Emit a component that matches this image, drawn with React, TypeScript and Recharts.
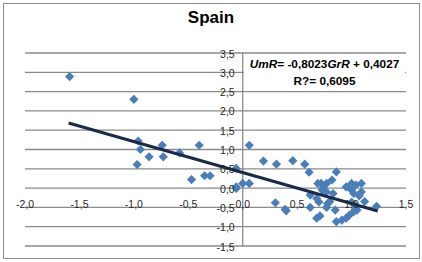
import { ScatterChart, Scatter, XAxis, YAxis, CartesianGrid, ReferenceLine } from "recharts";

// GrR (x) and UmR (y)
const GRR = [
  -1.59, -1.0, -0.96, -0.94, -0.97, -0.86, -0.74, -0.73, -0.58, -0.4, -0.47, -0.35, -0.3,
  -0.06, -0.06, -0.06, 0.0, 0.06, 0.06, 0.19, 0.31, 0.3, 0.4, 0.39, 0.46, 0.57, 0.61, 0.62,
  0.62, 0.69, 0.72, 0.77, 0.82, 0.86, 0.68, 0.7, 0.71, 0.68, 0.77, 0.8, 0.77, 0.83, 0.85,
  0.86, 0.91, 0.95, 0.95, 1.0, 1.02, 1.04, 1.09, 1.09, 1.12, 1.03, 1.02, 1.05, 1.0, 1.23,
  0.74, 0.78, 0.98, 1.0, 0.73, 1.07,
];
const UMR = [
  2.89, 2.3, 1.22, 1.0, 0.61, 0.81, 1.11, 0.81, 0.91, 1.11, 0.22, 0.32, 0.32,
  0.51, 0.03, -0.01, 0.12, 0.12, 1.11, 0.7, 0.62, -0.38, -0.59, -0.55, 0.71, 0.62, 0.41, -0.18,
  -0.5, 0.12, 0.12, 0.12, 0.21, 0.42, -0.27, -0.36, -0.72, -0.78, -0.5, -0.35, -0.1, -0.14, -0.57,
  -0.87, -0.83, -0.78, 0.03, 0.12, -0.14, 0.08, 0.12, -0.1, -0.35, -0.44, -0.61, -0.57, -0.36, -0.47,
  0.0, -0.4, -0.7, -0.05, -0.05, -0.2,
];

const X_TICKS = [-2, -1.5, -1, -0.5, 0, 0.5, 1, 1.5];
const Y_TICKS = [-1.5, -1, -0.5, 0, 0.5, 1, 1.5, 2, 2.5, 3, 3.5];

// Excel linear trendline
const SLOPE = -0.8023;
const INTERCEPT = 0.4027;
const TREND_X = [-1.6, 1.24];

const punten = GRR.map((x, i) => ({ x, y: UMR[i] }));
const trend = TREND_X.map((x) => ({ x, y: SLOPE * x + INTERCEPT }));

const W = 422;
const H = 262;
const M = { top: 53, right: 16, bottom: 15, left: 24 };
const AX = 1; // axis sizes, tiny since labels sit on the 0,0 cross
const PLOT_L = M.left + AX;
const PLOT_W = W - PLOT_L - M.right;
const PLOT_H = H - M.top - M.bottom - AX;
const X_MIN = -2, X_MAX = 1.5, Y_MIN = -1.5, Y_MAX = 3.5;

// axes cross at 0,0 like in Excel
const zeroX = PLOT_L + ((0 - X_MIN) / (X_MAX - X_MIN)) * PLOT_W;
const zeroY = M.top + ((Y_MAX - 0) / (Y_MAX - Y_MIN)) * PLOT_H;

const fmt = (v: number) => v.toFixed(1).replace(".", ",");
const FONT = "'Liberation Sans', Arial, sans-serif";

const XTick = (props: any) => (
  <text x={props.x} y={zeroY + 20} textAnchor="middle" fontSize={10.5} fontFamily={FONT} fill="#262626">
    {fmt(props.payload.value)}
  </text>
);

const YTick = (props: any) => (
  <text x={zeroX - 8} y={props.y + 4.5} textAnchor="end" fontSize={10.5} fontFamily={FONT} fill="#262626">
    {fmt(props.payload.value)}
  </text>
);

const Ruit = ({ cx, cy }: any) => (
  <path d={`M${cx},${cy - 4.6}L${cx + 4.6},${cy}L${cx},${cy + 4.6}L${cx - 4.6},${cy}Z`} fill="#4a7ebb" />
);

export default function App() {
  return (
    <div style={{ position: "absolute", left: 0, top: 0, width: W, height: H, background: "#fff" }}>
      <div
        style={{
          position: "absolute",
          left: 3,
          top: 3,
          width: 417,
          height: 256,
          border: "1.5px solid #8c8c8c",
          boxSizing: "border-box",
        }}
      />
      <ScatterChart width={W} height={H} margin={M}>
        <CartesianGrid vertical={false} stroke="#8a8a8a" strokeWidth={1.3} />
        <XAxis
          type="number"
          dataKey="x"
          domain={[X_MIN, X_MAX]}
          ticks={X_TICKS}
          interval={0}
          height={AX}
          axisLine={false}
          tickLine={false}
          tick={XTick}
          allowDataOverflow
        />
        <YAxis
          type="number"
          dataKey="y"
          domain={[Y_MIN, Y_MAX]}
          ticks={Y_TICKS}
          interval={0}
          width={AX}
          axisLine={false}
          tickLine={false}
          tick={YTick}
          allowDataOverflow
        />
        <ReferenceLine x={0} stroke="#8a8a8a" strokeWidth={1.3} />
        <Scatter data={punten} shape={<Ruit />} isAnimationActive={false} />
        <Scatter
          data={trend}
          line={{ stroke: "#1b2a48", strokeWidth: 3 }}
          shape={() => <g />}
          isAnimationActive={false}
        />
      </ScatterChart>
      <div
        style={{
          position: "absolute",
          left: 0,
          top: 8,
          width: W,
          textAlign: "center",
          fontFamily: FONT,
          fontWeight: "bold",
          fontSize: 17,
          color: "#000",
        }}
      >
        Spain
      </div>
      <div
        style={{
          position: "absolute",
          left: 244,
          top: 56,
          width: 161,
          height: 33,
          background: "#fff",
          textAlign: "center",
          fontFamily: FONT,
          fontWeight: "bold",
          fontSize: 11.8,
          lineHeight: "17px",
          color: "#000",
          whiteSpace: "nowrap",
        }}
      >
        <div>
          <i>UmR</i>= -0,8023<i>GrR</i> + 0,4027
        </div>
        <div>R?= 0,6095</div>
      </div>
    </div>
  );
}
